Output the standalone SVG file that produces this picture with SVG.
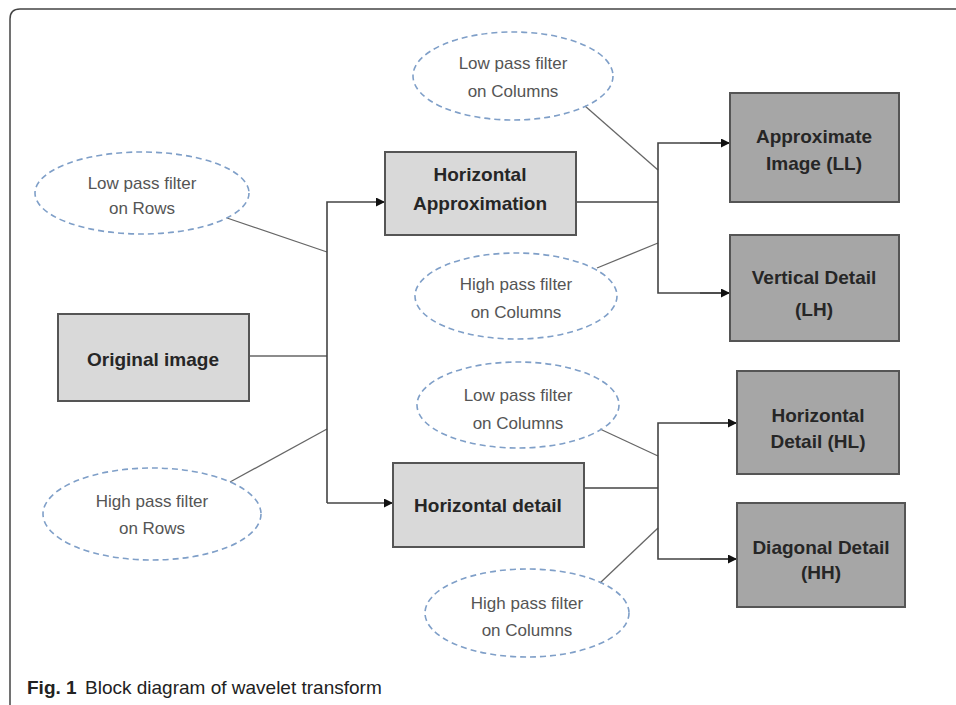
<svg xmlns="http://www.w3.org/2000/svg" width="956" height="705" viewBox="0 0 956 705">
<style>
.ell{fill:none;stroke:#7f9fc8;stroke-width:1.6;stroke-dasharray:6 4}
.et{font-family:"Liberation Sans",Arial,sans-serif;font-size:17px;fill:#555;text-anchor:middle}
.lb{fill:#d9d9d9;stroke:#555;stroke-width:2}
.db{fill:#a6a6a6;stroke:#555;stroke-width:2}
.bt{font-family:"Liberation Sans",Arial,sans-serif;font-size:19px;font-weight:bold;fill:#262626;text-anchor:middle}
.c{fill:none;stroke:#444;stroke-width:1.6}
.cf{fill:none;stroke:#666;stroke-width:1.3}
</style>
<defs>
<marker id="ah" viewBox="0 0 10 10" refX="10" refY="5" markerWidth="10" markerHeight="9" markerUnits="userSpaceOnUse" orient="auto">
<path d="M0,0 L10,5 L0,10 Z" fill="#111"/>
</marker>
</defs>
<rect width="956" height="705" fill="#fff"/>
<path d="M10,705 V19 Q10,9 20,9 H956" fill="none" stroke="#444" stroke-width="1.5"/>

<g id="connectors">
<line class="cf" x1="227" y1="218" x2="327" y2="252"/>
<line class="cf" x1="230" y1="482" x2="327" y2="429"/>
<line class="cf" x1="249" y1="356" x2="327" y2="356"/>
<path class="c" d="M327,503 V202 H385" marker-end="url(#ah)"/>
<path class="c" d="M327,503 H393" marker-end="url(#ah)"/>
<line class="cf" x1="585" y1="106" x2="658" y2="170"/>
<line class="cf" x1="597" y1="268" x2="658" y2="243"/>
<line class="c" x1="576" y1="202" x2="658" y2="202"/>
<path class="c" d="M730,143 H658 V293 H730"/>
<line class="c" x1="700" y1="143" x2="730" y2="143" marker-end="url(#ah)"/>
<line class="c" x1="700" y1="293" x2="730" y2="293" marker-end="url(#ah)"/>
<line class="cf" x1="600" y1="429" x2="658" y2="456"/>
<line class="cf" x1="600" y1="583" x2="658" y2="528"/>
<line class="c" x1="584" y1="488" x2="658" y2="488"/>
<path class="c" d="M737,423 H658 V559 H737"/>
<line class="c" x1="700" y1="423" x2="737" y2="423" marker-end="url(#ah)"/>
<line class="c" x1="700" y1="559" x2="737" y2="559" marker-end="url(#ah)"/>
</g>

<g id="lpf-rows">
<ellipse class="ell" cx="142" cy="193" rx="107" ry="41"/>
<text class="et" x="142" y="189">Low pass filter</text>
<text class="et" x="142" y="214">on Rows</text>
</g>
<g id="hpf-rows">
<ellipse class="ell" cx="152" cy="514" rx="109" ry="46"/>
<text class="et" x="152" y="507">High pass filter</text>
<text class="et" x="152" y="534">on Rows</text>
</g>
<g id="original">
<rect class="lb" x="58" y="314" width="191" height="87"/>
<text class="bt" x="153" y="366">Original image</text>
</g>
<g id="horiz-approx">
<rect class="lb" x="385" y="152" width="191" height="83"/>
<text class="bt" x="480" y="181">Horizontal</text>
<text class="bt" x="480" y="210">Approximation</text>
</g>
<g id="horiz-detail">
<rect class="lb" x="393" y="463" width="191" height="84"/>
<text class="bt" x="488" y="512">Horizontal detail</text>
</g>
<g id="lpf-cols-1">
<ellipse class="ell" cx="513" cy="76" rx="100" ry="44"/>
<text class="et" x="513" y="69">Low pass filter</text>
<text class="et" x="513" y="97">on Columns</text>
</g>
<g id="hpf-cols-1">
<ellipse class="ell" cx="516" cy="296" rx="101" ry="43"/>
<text class="et" x="516" y="290">High pass filter</text>
<text class="et" x="516" y="318">on Columns</text>
</g>
<g id="lpf-cols-2">
<ellipse class="ell" cx="518" cy="405" rx="101" ry="43"/>
<text class="et" x="518" y="401">Low pass filter</text>
<text class="et" x="518" y="429">on Columns</text>
</g>
<g id="hpf-cols-2">
<ellipse class="ell" cx="527" cy="613" rx="102" ry="44"/>
<text class="et" x="527" y="609">High pass filter</text>
<text class="et" x="527" y="636">on Columns</text>
</g>
<g id="ll">
<rect class="db" x="730" y="93" width="169" height="109"/>
<text class="bt" x="814" y="143">Approximate</text>
<text class="bt" x="814" y="170">Image (LL)</text>
</g>
<g id="lh">
<rect class="db" x="730" y="235" width="169" height="106"/>
<text class="bt" x="814" y="284">Vertical Detail</text>
<text class="bt" x="814" y="316">(LH)</text>
</g>
<g id="hl">
<rect class="db" x="737" y="371" width="162" height="103"/>
<text class="bt" x="818" y="422">Horizontal</text>
<text class="bt" x="818" y="448">Detail (HL)</text>
</g>
<g id="hh">
<rect class="db" x="737" y="503" width="168" height="104"/>
<text class="bt" x="821" y="554">Diagonal Detail</text>
<text class="bt" x="821" y="579">(HH)</text>
</g>
<text x="27" y="694" font-family="'Liberation Sans',Arial,sans-serif" font-size="19" fill="#222"><tspan font-weight="bold">Fig. 1</tspan><tspan x="85">Block diagram of wavelet transform</tspan></text>
</svg>
